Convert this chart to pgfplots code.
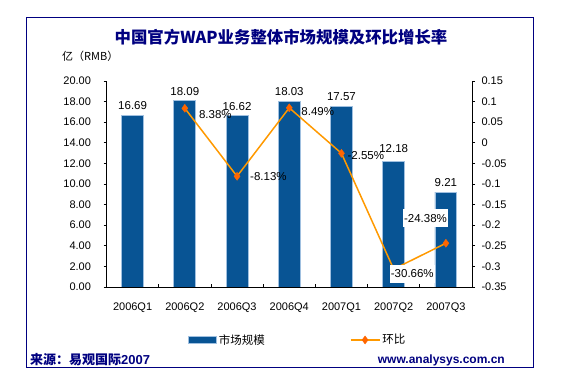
\documentclass[border=0pt]{standalone}
\usepackage{fontspec}
\setmainfont{Liberation Sans}
\newfontfamily\cjk{Noto Sans CJK SC}
\usepackage{pgfplots}
\usepackage{pgfplotstable}
\pgfplotsset{compat=1.18}
\definecolor{navy}{RGB}{0,0,128}
\definecolor{barblue}{RGB}{8,84,148}
\definecolor{barborder}{RGB}{160,192,224}
\definecolor{lineorange}{RGB}{255,153,0}
\definecolor{markorange}{RGB}{255,102,0}
\pgfplotsset{mylinelegend/.style={legend image code/.code={\draw[mark repeat=2,mark phase=2,##1] plot coordinates {(0pt,0pt) (14.5pt,0pt) (29pt,0pt)};}}}

\pgfplotstableread{
x y dy
0 16.69 4
1 18.09 4
2 16.62 4
3 18.03 4
4 17.57 4
5 12.18 8
6 9.21 4
}\bars
\pgfplotstableread{
x y lbl dx dy
1 0.0838 8.38 13 -6
2 -0.0813 -8.13 12 0
3 0.0849 8.49 11 -4
4 -0.0255 -2.55 5 -2
}\labA
\pgfplotstableread{
x y lbl dx dy
5 -0.3066 -30.66 -4 -4.5
6 -0.2438 -24.38 -43 25
}\labB

\begin{document}
\begin{tikzpicture}[x=1pt,y=1pt]
\useasboundingbox (0,0) rectangle (583,385);
\draw[navy, line width=1pt] (26,17) rectangle (533,367);
\node[font=\cjk\bfseries\fontsize{16.4}{19}\selectfont, text=navy] at (281,348) {中国官方WAP业务整体市场规模及环比增长率};
\node[font=\cjk\fontsize{11}{13}\selectfont, anchor=west, inner sep=0pt] at (62,329) {亿（RMB）};
\node[anchor=west, inner sep=0pt, text=navy, font=\bfseries\fontsize{13}{15}\selectfont] at (30,25) {{\cjk\bfseries 来源：易观国际}2007};
\node[anchor=east, inner sep=0pt, text=navy, font=\bfseries\fontsize{12}{14}\selectfont] at (505,25) {www.analysys.com.cn};

\begin{axis}[
  at={(106.5pt,98pt)}, anchor=south west, scale only axis,
  width=365.5pt, height=206pt,
  xmin=-0.5, xmax=6.5, ymin=0, ymax=20,
  axis x line*=bottom, axis y line*=left,
  axis line style={-, black, line width=0.8pt},
  xtick={0.5,1.5,2.5,3.5,4.5,5.5}, xticklabels={},
  xtick align=inside,
  extra x ticks={0,1,2,3,4,5,6},
  extra x tick labels={2006Q1,2006Q2,2006Q3,2006Q4,2007Q1,2007Q2,2007Q3},
  extra x tick style={major tick length=0pt, tick label style={yshift=-12pt}},
  ytick={0,2,...,20}, ytick align=outside,
  major tick length=3pt,
  tick style={black, line width=0.8pt},
  tick label style={font=\fontsize{11}{13}\selectfont, text=black},
  yticklabel style={xshift=-9pt},
  yticklabel={\pgfmathprintnumber[fixed,fixed zerofill,precision=2,assume math mode=true]{\tick}},
  legend style={at={(0.223,-0.257)}, anchor=west, draw=none, fill=none,
    inner sep=0pt, font=\cjk\fontsize{11.5}{13}\selectfont},
  legend columns=2,
  legend cell align=left,
  /tikz/every even column/.append style={column sep=83pt},
]
\addplot[ybar, bar shift=0pt, bar width=0.42, fill=barblue, draw=barborder, line width=0.8pt,
  visualization depends on={\thisrow{dy}\as\bdy},
  nodes near coords={\pgfmathprintnumber[fixed,fixed zerofill,precision=2,assume math mode=true]{\pgfplotspointmeta}},
  every node near coord/.append style={font=\fontsize{11.5}{13}\selectfont, text=black, anchor=south, yshift=\bdy pt, inner sep=1pt},
  legend image code/.code={\fill[barblue, draw=barborder, line width=0.6pt] (0pt,-3.5pt) rectangle (28pt,3.5pt);}
] table[x=x, y=y] {\bars};
\addlegendentry{市场规模}
\addlegendimage{mylinelegend, lineorange, line width=1.5pt, mark=diamond*, mark size=4pt,
  mark options={fill=markorange, draw=markorange, line width=0.4pt}}
\addlegendentry{环比}
\end{axis}

\begin{axis}[
  at={(106.5pt,98pt)}, anchor=south west, scale only axis,
  width=365.5pt, height=206pt,
  xmin=-0.5, xmax=6.5, ymin=-0.35, ymax=0.15,
  axis x line=none, axis y line*=right,
  axis line style={-, black, line width=0.8pt},
  ytick={-0.35,-0.3,-0.25,-0.2,-0.15,-0.1,-0.05,0,0.05,0.1,0.15},
  yticklabels={-0.35,-0.3,-0.25,-0.2,-0.15,-0.1,-0.05,0,0.05,0.1,0.15},
  ytick align=outside, major tick length=3pt,
  tick style={black, line width=0.8pt},
  tick label style={font=\fontsize{11}{13}\selectfont, text=black},
  yticklabel style={xshift=3pt},
  clip=false,
]
\addplot[lineorange, line width=1.5pt, mark=diamond*, mark size=4pt,
  mark options={fill=markorange, draw=markorange, line width=0.4pt}]
  coordinates {(1,0.0838) (2,-0.0813) (3,0.0849) (4,-0.0255) (5,-0.3066) (6,-0.2438)};
\addplot[draw=none, mark=none, point meta=explicit symbolic,
  visualization depends on={\thisrow{dx}\as\dx},
  visualization depends on={\thisrow{dy}\as\dy},
  nodes near coords={\pgfplotspointmeta\%},
  every node near coord/.append style={font=\fontsize{11.5}{13}\selectfont, text=black,
    anchor=west, inner sep=1pt, xshift=\dx pt, yshift=\dy pt}]
  table[x=x, y=y, meta=lbl] {\labA};
\addplot[draw=none, mark=none, point meta=explicit symbolic,
  visualization depends on={\thisrow{dx}\as\dx},
  visualization depends on={\thisrow{dy}\as\dy},
  nodes near coords={\pgfplotspointmeta\%},
  every node near coord/.append style={font=\fontsize{11.5}{13}\selectfont, text=black,
    anchor=west, fill=white, inner xsep=1pt, inner ysep=5pt, xshift=\dx pt, yshift=\dy pt}]
  table[x=x, y=y, meta=lbl] {\labB};
\end{axis}
\end{tikzpicture}
\end{document}
